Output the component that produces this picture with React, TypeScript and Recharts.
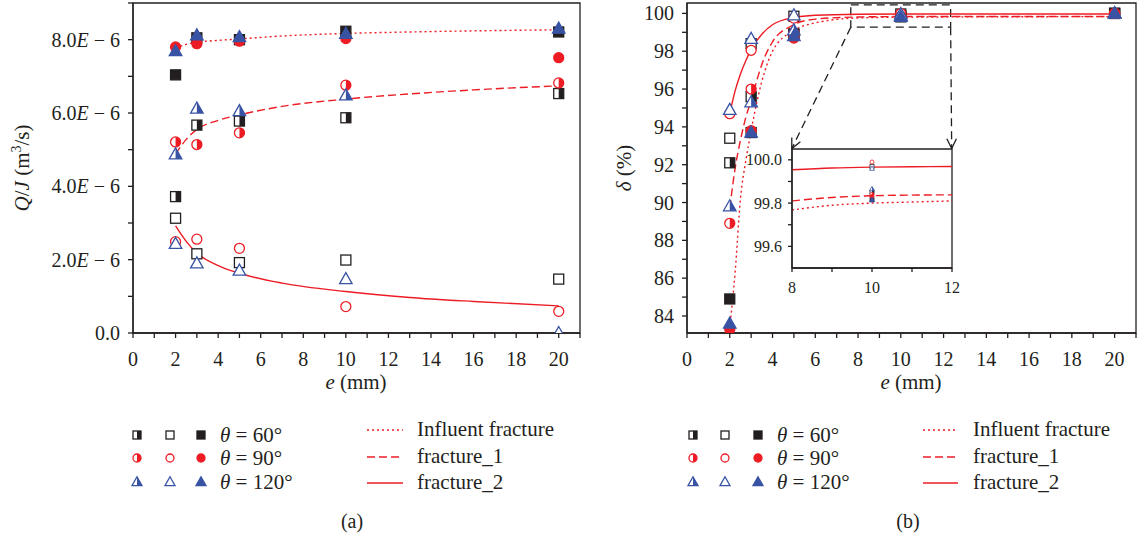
import React from "react";
import {
  ComposedChart,
  Line,
  Scatter,
  XAxis,
  YAxis,
  ReferenceArea,
  ReferenceLine,
} from "recharts";

const FONT = "'Liberation Serif', 'DejaVu Serif', serif";
const RED = "#ed1c24";
const BLUE = "#3953a4";
const BLACK = "#231f20";

const E_VALUES = [2, 3, 5, 10, 20];

// (a) Q/J in m^3/s
const Q_60_HALF = [3.72e-6, 5.67e-6, 5.78e-6, 5.87e-6, 6.53e-6];
const Q_60_OPEN = [3.13e-6, 2.16e-6, 1.92e-6, 1.99e-6, 1.47e-6];
const Q_60_FULL = [7.04e-6, 8.05e-6, 8.0e-6, 8.23e-6, 8.21e-6];
const Q_90_HALF = [5.21e-6, 5.14e-6, 5.46e-6, 6.76e-6, 6.82e-6];
const Q_90_OPEN = [2.49e-6, 2.56e-6, 2.31e-6, 0.72e-6, 0.59e-6];
const Q_90_FULL = [7.8e-6, 7.89e-6, 7.96e-6, 8.03e-6, 7.51e-6];
const Q_120_HALF = [4.87e-6, 6.12e-6, 6.05e-6, 6.48e-6, null];
const Q_120_OPEN = [2.43e-6, 1.9e-6, 1.7e-6, 1.47e-6, 0.0];
const Q_120_FULL = [7.69e-6, 8.12e-6, 8.07e-6, 8.16e-6, 8.3e-6];

const CURVE_E_A = [2, 2.5, 3, 4, 5, 7, 10, 13, 16, 20];
const Q_INFLUENT = [7.78e-6, 7.87e-6, 7.93e-6, 7.98e-6, 8.02e-6, 8.1e-6, 8.17e-6, 8.21e-6, 8.24e-6, 8.27e-6];
const Q_FRACTURE_1 = [4.88e-6, 5.28e-6, 5.55e-6, 5.8e-6, 5.95e-6, 6.18e-6, 6.38e-6, 6.52e-6, 6.63e-6, 6.74e-6];
const Q_FRACTURE_2 = [2.92e-6, 2.5e-6, 2.18e-6, 1.84e-6, 1.63e-6, 1.36e-6, 1.13e-6, 0.97e-6, 0.86e-6, 0.74e-6];

// (b) delta in %
const D_60_HALF = [92.1, 95.6, 98.9, 99.85, 100.0];
const D_60_OPEN = [93.4, 98.4, 99.85, 99.97, 100.0];
const D_60_FULL = [84.9, 93.7, 98.9, 99.815, 100.0];
const D_90_HALF = [88.9, 96.0, 98.95, 99.84, 100.0];
const D_90_OPEN = [94.7, 98.05, 99.75, 99.99, 100.0];
const D_90_FULL = [83.3, 93.8, 98.7, 99.83, 100.0];
const D_120_HALF = [89.8, 95.3, 99.1, 99.865, 100.0];
const D_120_OPEN = [94.9, 98.65, 99.9, 99.96, 100.0];
const D_120_FULL = [83.6, 93.7, 98.8, 99.815, 100.0];

const CURVE_E_B = [2, 2.25, 2.5, 2.75, 3, 3.5, 4, 5, 6, 8, 10, 14, 20];
const D_INFLUENT = [83.4, 86.3, 90.2, 92.2, 93.8, 96.4, 98.0, 99.1, 99.5, 99.76, 99.8, 99.82, 99.83];
const D_FRACTURE_1 = [89.7, 91.8, 93.3, 94.5, 95.4, 97.3, 98.5, 99.4, 99.7, 99.81, 99.834, 99.838, 99.84];
const D_FRACTURE_2 = [94.7, 95.9, 96.8, 97.5, 98.1, 98.9, 99.4, 99.78, 99.9, 99.954, 99.966, 99.969, 99.97];

// inset (8 <= e <= 12)
const INSET_E = [8, 9, 10, 11, 12];
const INSET_INFLUENT = [99.768, 99.79, 99.8, 99.805, 99.81];
const INSET_FRACTURE_1 = [99.81, 99.826, 99.834, 99.837, 99.838];
const INSET_FRACTURE_2 = [99.954, 99.962, 99.966, 99.968, 99.969];

const X_TICKS = [0, 1, 2, 3, 4, 5, 6, 7, 8, 9, 10, 11, 12, 13, 14, 15, 16, 17, 18, 19, 20, 21];
const Q_TICKS = [0, 1e-6, 2e-6, 3e-6, 4e-6, 5e-6, 6e-6, 7e-6, 8e-6, 9e-6];
const D_TICKS = [84, 85, 86, 87, 88, 89, 90, 91, 92, 93, 94, 95, 96, 97, 98, 99, 100];
const INSET_Y_TICKS = [99.6, 99.7, 99.8, 99.9, 100.0];
const INSET_X_TICKS = [8, 9, 10, 11, 12];

const THETAS = ["60", "90", "120"];
const CURVE_NAMES = ["Influent fracture", "fracture_1", "fracture_2"];

type Kind = "square" | "circle" | "triangle";
type Fill = "half" | "open" | "full";

const pts = (xs: number[], ys: (number | null)[]) =>
  xs.map((e, i) => ({ e, v: ys[i] })).filter((p) => p.v != null);

function Marker({ cx, cy, kind, fill, color, size }: any) {
  const sw = size < 6 ? 0.8 : 1.3;
  const inner = fill === "full" ? color : "#fff";
  if (kind === "square") {
    const h = size / 2;
    return (
      <g>
        <rect x={cx - h} y={cy - h} width={size} height={size} fill={inner} stroke={color} strokeWidth={sw} />
        {fill === "half" && <rect x={cx} y={cy - h} width={h} height={size} fill={color} />}
      </g>
    );
  }
  if (kind === "circle") {
    const r = size / 2;
    return (
      <g>
        <circle cx={cx} cy={cy} r={r} fill={inner} stroke={color} strokeWidth={sw} />
        {fill === "half" && (
          <path d={`M${cx},${cy - r} A${r},${r} 0 0 1 ${cx},${cy + r} Z`} fill={color} />
        )}
      </g>
    );
  }
  const w = size * 1.25;
  const top = cy - size * 0.65;
  const bot = cy + size * 0.45;
  return (
    <g>
      <polygon
        points={`${cx},${top} ${cx - w / 2},${bot} ${cx + w / 2},${bot}`}
        fill={inner}
        stroke={color}
        strokeWidth={sw}
        strokeLinejoin="miter"
      />
      {fill === "half" && <polygon points={`${cx},${top} ${cx + w / 2},${bot} ${cx},${bot}`} fill={color} />}
    </g>
  );
}

const shapeOf = (kind: Kind, fill: Fill, color: string, size: number) => (p: any) =>
  <Marker cx={p.cx} cy={p.cy} kind={kind} fill={fill} color={color} size={size} />;

const seriesA = [
  { kind: "square", fill: "half", color: BLACK, ys: Q_60_HALF },
  { kind: "square", fill: "open", color: BLACK, ys: Q_60_OPEN },
  { kind: "square", fill: "full", color: BLACK, ys: Q_60_FULL },
  { kind: "circle", fill: "half", color: RED, ys: Q_90_HALF },
  { kind: "circle", fill: "open", color: RED, ys: Q_90_OPEN },
  { kind: "circle", fill: "full", color: RED, ys: Q_90_FULL },
  { kind: "triangle", fill: "half", color: BLUE, ys: Q_120_HALF },
  { kind: "triangle", fill: "open", color: BLUE, ys: Q_120_OPEN },
  { kind: "triangle", fill: "full", color: BLUE, ys: Q_120_FULL },
];

const seriesB = [
  { kind: "square", fill: "half", color: BLACK, ys: D_60_HALF },
  { kind: "square", fill: "open", color: BLACK, ys: D_60_OPEN },
  { kind: "square", fill: "full", color: BLACK, ys: D_60_FULL },
  { kind: "circle", fill: "half", color: RED, ys: D_90_HALF },
  { kind: "circle", fill: "open", color: RED, ys: D_90_OPEN },
  { kind: "circle", fill: "full", color: RED, ys: D_90_FULL },
  { kind: "triangle", fill: "half", color: BLUE, ys: D_120_HALF },
  { kind: "triangle", fill: "open", color: BLUE, ys: D_120_OPEN },
  { kind: "triangle", fill: "full", color: BLUE, ys: D_120_FULL },
];

const DASHES = ["2 3", "8 4", undefined];

const XTick = (p: any) => {
  const v = p.payload.value;
  if (v % 2 !== 0 || v > 20) return <g />;
  return (
    <text x={p.x} y={p.y} dy="0.71em" textAnchor="middle" fontFamily={FONT} fontSize={20} fill={BLACK}>
      {v}
    </text>
  );
};

const QTick = (p: any) => {
  const v = Math.round(p.payload.value * 1e6);
  if (v % 2 !== 0) return <g />;
  return (
    <text x={p.x} y={p.y} dy="0.35em" textAnchor="end" fontFamily={FONT} fontSize={20} fill={BLACK}>
      {v === 0 ? (
        "0.0"
      ) : (
        <>
          {v.toFixed(1)}
          <tspan fontStyle="italic">E</tspan>
          {" \u2212 6"}
        </>
      )}
    </text>
  );
};

const DTick = (p: any) => {
  const v = p.payload.value;
  if (v % 2 !== 0) return <g />;
  return (
    <text x={p.x} y={p.y} dy="0.35em" textAnchor="end" fontFamily={FONT} fontSize={20} fill={BLACK}>
      {v}
    </text>
  );
};

const InsetYTick = (p: any) => {
  const v = Math.round(p.payload.value * 10);
  if (v % 2 !== 0) return <g />;
  return (
    <text x={p.x} y={p.y} dy="0.35em" textAnchor="end" fontFamily={FONT} fontSize={16} fill={BLACK}>
      {(v / 10).toFixed(1)}
    </text>
  );
};

const InsetXTick = (p: any) => {
  const v = p.payload.value;
  if (v % 2 !== 0) return <g />;
  return (
    <text x={p.x} y={p.y} dy="0.71em" textAnchor="middle" fontFamily={FONT} fontSize={16} fill={BLACK}>
      {v}
    </text>
  );
};

const ArrowShape = (p: any) => {
  const { x1, y1, x2, y2 } = p;
  const ang = Math.atan2(y2 - y1, x2 - x1);
  const L = 11;
  const a1 = ang + Math.PI - 0.45;
  const a2 = ang + Math.PI + 0.45;
  return (
    <g>
      <line x1={x1} y1={y1} x2={x2} y2={y2} stroke={BLACK} strokeWidth={1.3} strokeDasharray="8 5" />
      <polyline
        points={`${x2 + L * Math.cos(a1)},${y2 + L * Math.sin(a1)} ${x2},${y2} ${x2 + L * Math.cos(a2)},${y2 + L * Math.sin(a2)}`}
        fill="none"
        stroke={BLACK}
        strokeWidth={1.3}
      />
    </g>
  );
};

function renderSeries(series: any[], size: number, xs: number[], filter?: (e: number) => boolean) {
  return series.map((s, i) => {
    let data = pts(xs, s.ys);
    if (filter) data = data.filter((d) => filter(d.e));
    return (
      <Scatter
        key={"s" + i}
        data={data}
        dataKey="v"
        isAnimationActive={false}
        shape={shapeOf(s.kind, s.fill, s.color, size)}
      />
    );
  });
}

function renderCurves(xs: number[], curves: number[][]) {
  return curves.map((ys, i) => (
    <Line
      key={"c" + i}
      data={pts(xs, ys)}
      dataKey="v"
      type="monotone"
      stroke={RED}
      strokeWidth={1.4}
      strokeDasharray={DASHES[i]}
      dot={false}
      activeDot={false}
      isAnimationActive={false}
    />
  ));
}

function LegendBlock({ mx, tx, lx1, lx2, ltx }: any) {
  const rows = [
    { kind: "square", color: BLACK, y: 435 },
    { kind: "circle", color: RED, y: 458 },
    { kind: "triangle", color: BLUE, y: 482 },
  ];
  const lineRows = [430, 457, 483];
  return (
    <g>
      {rows.map((r, i) => (
        <g key={i}>
          {(["half", "open", "full"] as Fill[]).map((f, j) => (
            <Marker key={j} cx={mx[j]} cy={r.y} kind={r.kind} fill={f} color={r.color} size={8} />
          ))}
          <text x={tx} y={r.y + 7} fontFamily={FONT} fontSize={21} fill={BLACK}>
            <tspan fontStyle="italic">θ</tspan>
            {` = ${THETAS[i]}°`}
          </text>
        </g>
      ))}
      {lineRows.map((y, i) => (
        <g key={"l" + i}>
          <line x1={lx1} x2={lx2} y1={y} y2={y} stroke={RED} strokeWidth={1.4} strokeDasharray={DASHES[i]} />
          <text x={ltx} y={y + 6} fontFamily={FONT} fontSize={21} fill={BLACK}>
            {CURVE_NAMES[i]}
          </text>
        </g>
      ))}
    </g>
  );
}

export default function App() {
  return (
    <div style={{ position: "absolute", left: 0, top: 0, width: 1138, height: 537, background: "#fff" }}>
      <svg
        width={1138}
        height={537}
        style={{ position: "absolute", left: 0, top: 0, pointerEvents: "none" }}
      >
        <text transform="translate(22,168) rotate(-90)" dy="0.35em" textAnchor="middle" fontFamily={FONT} fontSize={21} fill={BLACK}>
          <tspan fontStyle="italic">Q</tspan>/<tspan fontStyle="italic">J</tspan> (m
          <tspan dy={-8} fontSize={14}>3</tspan>
          <tspan dy={8}>/s)</tspan>
        </text>
        <text transform="translate(624,168) rotate(-90)" dy="0.35em" textAnchor="middle" fontFamily={FONT} fontSize={21} fill={BLACK}>
          <tspan fontStyle="italic">δ</tspan> (%)
        </text>
        <text x={356} y={389} textAnchor="middle" fontFamily={FONT} fontSize={21} fill={BLACK}>
          <tspan fontStyle="italic">e</tspan> (mm)
        </text>
        <text x={911} y={389} textAnchor="middle" fontFamily={FONT} fontSize={21} fill={BLACK}>
          <tspan fontStyle="italic">e</tspan> (mm)
        </text>
        <LegendBlock mx={[137, 170, 201]} tx={220} lx1={367} lx2={403} ltx={417} />
        <LegendBlock mx={[693, 725, 758]} tx={777} lx1={923} lx2={958} ltx={973} />
        <text x={352} y={528} textAnchor="middle" fontFamily={FONT} fontSize={20} fill={BLACK}>(a)</text>
        <text x={908} y={528} textAnchor="middle" fontFamily={FONT} fontSize={20} fill={BLACK}>(b)</text>
      </svg>

      {/* (a) */}
      <div style={{ position: "absolute", left: 0, top: 0 }}>
        <ComposedChart width={600} height={400} margin={{ top: 3, right: 20, bottom: 0, left: 0 }}>
          <XAxis
            type="number"
            dataKey="e"
            domain={[0, 21]}
            ticks={X_TICKS}
            interval={0}
            allowDataOverflow
            height={67}
            tickSize={5}
            tickMargin={14}
            stroke={BLACK}
            strokeWidth={1.3}
            tick={XTick}
          />
          <YAxis
            type="number"
            dataKey="v"
            domain={[0, 9e-6]}
            ticks={Q_TICKS}
            interval={0}
            allowDataOverflow
            width={133}
            tickSize={5}
            tickMargin={8}
            stroke={BLACK}
            strokeWidth={1.3}
            tick={QTick}
          />
          <ReferenceArea x1={0} x2={21} y1={0} y2={9e-6} fill="none" stroke={BLACK} strokeWidth={1.3} />
          {renderCurves(CURVE_E_A, [Q_INFLUENT, Q_FRACTURE_1, Q_FRACTURE_2])}
          {renderSeries(seriesA, 10, E_VALUES)}
        </ComposedChart>
      </div>

      {/* (b) */}
      <div style={{ position: "absolute", left: 590, top: 0 }}>
        <ComposedChart width={548} height={400} margin={{ top: 3, right: 2, bottom: 0, left: 0 }}>
          <XAxis
            type="number"
            dataKey="e"
            domain={[0, 21]}
            ticks={X_TICKS}
            interval={0}
            allowDataOverflow
            height={67}
            tickSize={5}
            tickMargin={14}
            stroke={BLACK}
            strokeWidth={1.3}
            tick={XTick}
          />
          <YAxis
            type="number"
            dataKey="v"
            domain={[83.1, 100.55]}
            ticks={D_TICKS}
            interval={0}
            allowDataOverflow
            width={97}
            tickSize={5}
            tickMargin={8}
            stroke={BLACK}
            strokeWidth={1.3}
            tick={DTick}
          />
          <ReferenceArea x1={0} x2={21} y1={83.1} y2={100.55} fill="none" stroke={BLACK} strokeWidth={1.3} />
          <ReferenceArea
            x1={7.66}
            x2={12.33}
            y1={99.27}
            y2={100.45}
            fill="none"
            stroke={BLACK}
            strokeWidth={1.3}
            strokeDasharray="8 5"
            ifOverflow="visible"
          />
          <ReferenceLine segment={[{ x: 7.66, y: 99.27 }, { x: 4.9, y: 92.85 }]} shape={ArrowShape} ifOverflow="visible" />
          <ReferenceLine segment={[{ x: 12.33, y: 99.27 }, { x: 12.38, y: 92.85 }]} shape={ArrowShape} ifOverflow="visible" />
          {renderCurves(CURVE_E_B, [D_INFLUENT, D_FRACTURE_1, D_FRACTURE_2])}
          {renderSeries(seriesB, 10, E_VALUES)}
        </ComposedChart>
      </div>

      {/* inset */}
      <div style={{ position: "absolute", left: 732, top: 139 }}>
        <ComposedChart width={230} height={160} margin={{ top: 10, right: 10, bottom: 0, left: 0 }}>
          <XAxis
            type="number"
            dataKey="e"
            domain={[8, 12]}
            ticks={INSET_X_TICKS}
            interval={0}
            allowDataOverflow
            height={31}
            tickSize={4}
            tickMargin={10}
            stroke={BLACK}
            strokeWidth={1.3}
            tick={InsetXTick}
          />
          <YAxis
            type="number"
            dataKey="v"
            domain={[99.5, 100.05]}
            ticks={INSET_Y_TICKS}
            interval={0}
            allowDataOverflow
            width={60}
            tickSize={4}
            tickMargin={6}
            stroke={BLACK}
            strokeWidth={1.3}
            tick={InsetYTick}
          />
          <ReferenceArea x1={8} x2={12} y1={99.5} y2={100.05} fill="#fff" fillOpacity={1} stroke={BLACK} strokeWidth={1.3} />
          {renderCurves(INSET_E, [INSET_INFLUENT, INSET_FRACTURE_1, INSET_FRACTURE_2])}
          {renderSeries(seriesB, 4, E_VALUES, (e) => e >= 8 && e <= 12)}
        </ComposedChart>
      </div>
    </div>
  );
}
